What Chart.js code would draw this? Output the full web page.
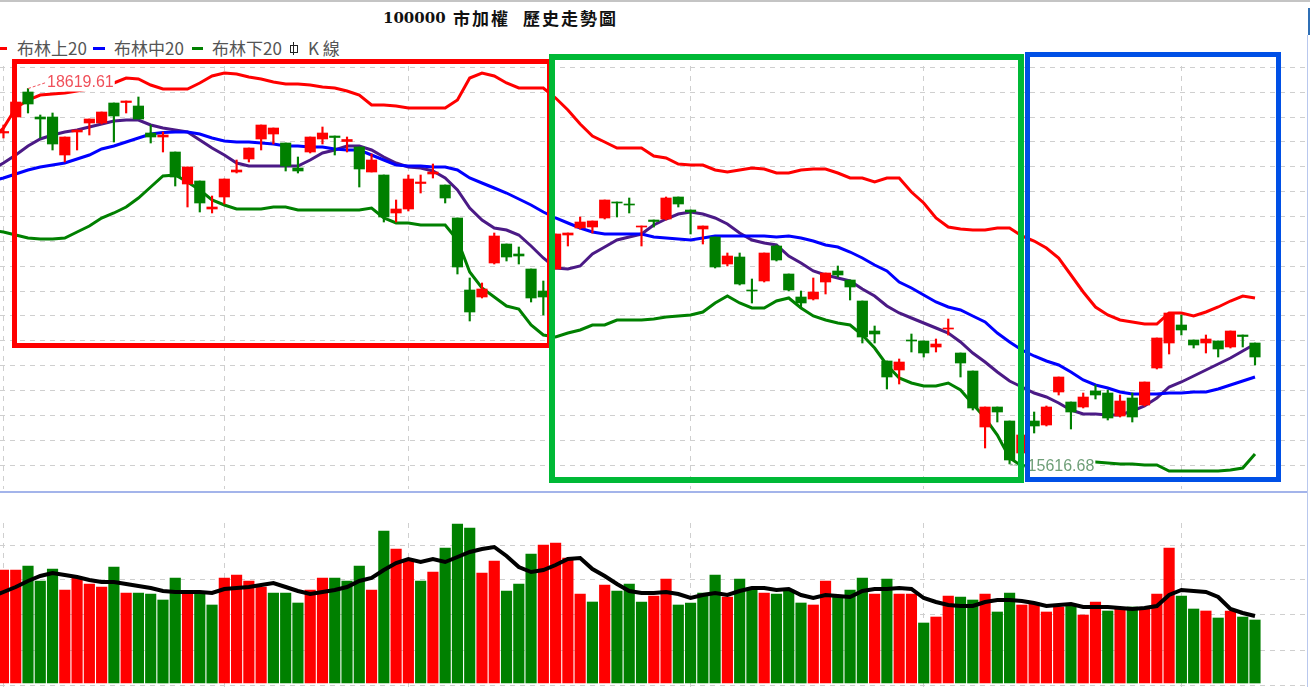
<!DOCTYPE html>
<html>
<head>
<meta charset="utf-8">
<title>100000 市加權 歷史走勢圖</title>
<script src="https://cdn.jsdelivr.net/npm/chart.js@4"></script>
<style>
    html, body { margin: 0; padding: 0; background: #fff; overflow: hidden; }
    #page { position: relative; width: 1310px; height: 687px; overflow: hidden; background: #fff; }
    #page canvas { position: absolute; left: 0; }
    #precio { top: 66px; }
    #volumen { top: 523px; }
    .topline { position: absolute; left: 0; top: 0; width: 1310px; height: 2px; background: #c4c4c4; }
    .sep { position: absolute; left: 0; top: 491px; width: 1307px; height: 2px; background: #a3b4ea; }
    .rightline { position: absolute; left: 1307px; top: 35px; width: 1px; height: 652px; background: #b9c8ee; }
    .rightcap { position: absolute; left: 1308px; top: 8px; width: 2px; height: 27px; background: #2f6fb5; }
    .titulo { position: absolute; top: 6px; line-height: 24px; font-weight: bold; color: #111; white-space: pre; }
    .num { font-family: "DejaVu Serif", serif; font-size: 15px; }
    .cjk { font-family: "Noto Sans CJK TC", sans-serif; font-size: 17px; letter-spacing: 2px; }
    .leg { position: absolute; top: 36px; font: 17px "Noto Sans CJK TC", sans-serif; line-height: 24px; color: #555; white-space: pre; }
    .dash { position: absolute; top: 47px; height: 3px; }
    .kbody { position: absolute; left: 290px; top: 45px; width: 6px; height: 6px; border: 1px solid #222; }
    .kwick { position: absolute; left: 293px; top: 42px; width: 1px; height: 13px; background: #222; }
    .box { position: absolute; box-sizing: border-box; border-style: solid; }
</style>
</head>
<body>
<div id="page">
    <div class="topline"></div>
    <div class="titulo num" style="left:383px">100000</div>
    <div class="titulo cjk" style="left:453px">市加權</div>
    <div class="titulo cjk" style="left:523px">歷史走勢圖</div>

    <div class="dash" style="left:0;width:7px;background:#ff0000"></div>
    <div class="leg" style="left:17px">布林上20</div>
    <div class="dash" style="left:93px;width:12px;background:#0000ff"></div>
    <div class="leg" style="left:114px">布林中20</div>
    <div class="dash" style="left:192px;width:11px;background:#008000"></div>
    <div class="leg" style="left:212px">布林下20</div>
    <div class="kbody"></div><div class="kwick"></div>
    <div class="leg" style="left:308px">K 線</div>

    <canvas id="precio" width="1305" height="423"></canvas>
    <div class="sep"></div>
    <canvas id="volumen" width="1305" height="164"></canvas>
    <div class="rightline"></div>
    <div class="rightcap"></div>

    <div class="box" style="left:12px;top:59px;width:540px;height:289px;border-width:5px;border-color:#ff0000"></div>
    <div class="box" style="left:549px;top:54px;width:475px;height:429px;border-width:6px;border-color:#00b936"></div>
    <div class="box" style="left:1025px;top:52px;width:256px;height:430px;border-width:5.5px;border-color:#0050e6"></div>
</div>

<script>
// daily candles (first day falls just off the left edge)
const apertura = [
    18100,
    18264, 18392, 18592, 18392, 18392, 18088, 18272, 18344, 18344, 18504, 18508, 18480, 18264, 18232, 18112, 17856, 17880, 17656, 17752, 17952,
    18056, 18216, 18256, 18184, 17984, 18112, 18216, 18240, 18196, 18152, 17952, 17928, 17624, 17656, 17860, 17936, 17848, 17584, 17008, 16952,
    17224, 17376, 17296, 17176, 17000, 17176, 17448, 17504, 17512, 17584, 17712, 17696, 17512, 17568, 17576, 17752, 17648, 17496, 17432, 17216,
    17272, 17008, 17080, 17360, 17136, 16952, 16936, 17072, 17160, 17088, 16920, 16680, 16440, 16368, 16608, 16600, 16552, 16696, 16504, 16360,
    15912, 16072, 15960, 15704, 15960, 15928, 16192, 16112, 16072, 16200, 16184, 16000, 16144, 16088, 16384, 16584, 16728, 16608, 16584, 16600,
    16552, 16648, 16584
]
const cierre = [
    18200,
    18276, 18512, 18496, 18376, 18176, 18232, 18288, 18376, 18432, 18400, 18520, 18376, 18232, 18248, 17912, 17992, 17704, 17672, 17896, 17968,
    18144, 18328, 18304, 18000, 17960, 18232, 18264, 18228, 18212, 17976, 18048, 17592, 17656, 17896, 17872, 17952, 17744, 17192, 16832, 17016,
    17440, 17272, 17280, 16944, 16952, 17456, 17464, 17552, 17560, 17728, 17704, 17688, 17520, 17556, 17744, 17696, 17632, 17520, 17192, 17280,
    17056, 17000, 17304, 17248, 17008, 16904, 16992, 17144, 17128, 17032, 16632, 16656, 16312, 16432, 16600, 16504, 16576, 16704, 16424, 16064,
    16072, 16032, 15648, 15848, 15920, 16072, 16312, 16032, 16152, 16168, 15984, 16120, 15992, 16272, 16624, 16824, 16688, 16568, 16616, 16536,
    16680, 16636, 16472
]
const maximo = [
    18250,
    18328, 18528, 18619.61, 18408, 18424, 18232, 18288, 18376, 18432, 18504, 18520, 18552, 18328, 18272, 18112, 17992, 17880, 17760, 17896, 18048,
    18144, 18328, 18304, 18184, 18072, 18232, 18312, 18240, 18232, 18152, 18096, 17928, 17728, 17928, 17928, 18016, 17848, 17584, 17104, 17064,
    17464, 17376, 17352, 17176, 17080, 17456, 17464, 17592, 17560, 17728, 17712, 17744, 17520, 17568, 17752, 17752, 17648, 17520, 17432, 17304,
    17304, 17096, 17304, 17368, 17136, 17000, 17104, 17144, 17200, 17088, 16920, 16720, 16440, 16456, 16656, 16600, 16616, 16776, 16504, 16360,
    16072, 16072, 15960, 15848, 16032, 16080, 16312, 16112, 16184, 16248, 16208, 16168, 16184, 16272, 16624, 16824, 16808, 16608, 16648, 16600,
    16680, 16648, 16584
]
const minimo = [
    18050,
    18224, 18384, 18424, 18224, 18128, 18032, 18128, 18248, 18336, 18192, 18424, 18376, 18184, 18112, 17840, 17672, 17632, 17624, 17696, 17944,
    18032, 18128, 18176, 17960, 17944, 18104, 18176, 18088, 18112, 17832, 17952, 17552, 17552, 17640, 17784, 17904, 17704, 17136, 16760, 16944,
    17216, 17240, 17216, 16912, 16808, 17176, 17360, 17496, 17464, 17576, 17592, 17624, 17360, 17512, 17568, 17672, 17456, 17376, 17184, 17200,
    17048, 16904, 17072, 17240, 17000, 16864, 16928, 16976, 17112, 16928, 16584, 16584, 16216, 16256, 16512, 16472, 16512, 16648, 16312, 16048,
    15744, 15952, 15616.68, 15704, 15864, 15920, 16168, 15896, 16064, 16136, 15968, 15992, 15952, 16080, 16376, 16496, 16648, 16544, 16504, 16472,
    16544, 16552, 16408
]

// bollinger 20 and the purple average
const bollSup = [
    18208,
    18304, 18464, 18528, 18568, 18576, 18584, 18600, 18616, 18640, 18664, 18704, 18696, 18648, 18616, 18616, 18616, 18664, 18720, 18744, 18736,
    18712, 18696, 18672, 18656, 18656, 18648, 18632, 18624, 18600, 18568, 18488, 18488, 18480, 18464, 18464, 18464, 18464, 18528, 18704, 18744,
    18720, 18664, 18624, 18624, 18624, 18544, 18448, 18336, 18240, 18192, 18144, 18144, 18144, 18080, 18064, 18016, 18008, 18008, 17968, 17952,
    17968, 17984, 17976, 17944, 17944, 17968, 17976, 17976, 17944, 17904, 17904, 17872, 17904, 17904, 17792, 17704, 17584, 17512, 17496, 17488,
    17488, 17504, 17504, 17440, 17400, 17344, 17264, 17128, 16992, 16872, 16808, 16768, 16752, 16736, 16736, 16824, 16824, 16800, 16832, 16872,
    16920, 16960, 16944
]
const bollMed = [
    17880,
    17904, 17936, 17968, 17992, 18008, 18024, 18056, 18088, 18136, 18160, 18192, 18224, 18256, 18268, 18272, 18272, 18256, 18224, 18200, 18192,
    18192, 18184, 18176, 18160, 18160, 18152, 18152, 18136, 18128, 18128, 18088, 18048, 18008, 18000, 18000, 17992, 17992, 17968, 17904, 17864,
    17824, 17784, 17736, 17688, 17632, 17584, 17544, 17504, 17472, 17456, 17456, 17456, 17456, 17432, 17424, 17416, 17408, 17424, 17440, 17440,
    17440, 17440, 17440, 17432, 17440, 17424, 17400, 17368, 17352, 17312, 17264, 17208, 17160, 17072, 17024, 16968, 16912, 16872, 16848, 16800,
    16752, 16664, 16592, 16528, 16480, 16440, 16408, 16352, 16288, 16248, 16224, 16192, 16176, 16176, 16176, 16184, 16184, 16192, 16192, 16216,
    16248, 16280, 16312
]
const bollInf = [
    17488,
    17472, 17448, 17424, 17416, 17416, 17424, 17472, 17520, 17584, 17624, 17672, 17744, 17832, 17920, 17928, 17872, 17808, 17728, 17688, 17656,
    17656, 17656, 17672, 17672, 17648, 17648, 17648, 17648, 17648, 17648, 17664, 17584, 17544, 17544, 17528, 17528, 17528, 17408, 17152, 17024,
    16952, 16880, 16856, 16728, 16648, 16632, 16664, 16688, 16728, 16728, 16768, 16768, 16768, 16776, 16792, 16800, 16808, 16832, 16904, 16960,
    16904, 16864, 16864, 16920, 16944, 16864, 16800, 16768, 16744, 16728, 16648, 16544, 16408, 16304, 16264, 16240, 16240, 16264, 16208, 16096,
    15984, 15848, 15664, 15600, 15608, 15616, 15624, 15632, 15632, 15632, 15624, 15616, 15616, 15608, 15608, 15560, 15560, 15560, 15560, 15560,
    15568, 15584, 15696
]
const mediaPrecio = [
    17968,
    18024, 18088, 18160, 18216, 18248, 18272, 18288, 18312, 18336, 18360, 18368, 18368, 18328, 18304, 18288, 18272, 18208, 18144, 18088, 18024,
    18000, 18000, 18000, 18000, 18000, 18048, 18104, 18128, 18160, 18160, 18128, 18072, 18024, 17992, 17984, 17960, 17904, 17808, 17664, 17568,
    17504, 17488, 17448, 17360, 17264, 17184, 17176, 17200, 17296, 17352, 17408, 17432, 17456, 17528, 17576, 17616, 17632, 17616, 17584, 17536,
    17464, 17408, 17384, 17368, 17280, 17224, 17160, 17128, 17104, 17080, 17016, 16960, 16880, 16824, 16784, 16744, 16704, 16664, 16592, 16504,
    16432, 16352, 16280, 16232, 16184, 16152, 16104, 16048, 16016, 16016, 16008, 16008, 16040, 16080, 16144, 16232, 16272, 16320, 16368, 16416,
    16464, 16520, 16576
]

// volume panel
const volumen = [
    1000,
    1130, 1130, 1170, 1020, 1140, 930, 1050, 990, 960, 1160, 900, 900, 890, 830, 1050, 910, 900, 780, 1050, 1080,
    1020, 960, 900, 900, 800, 930, 1050, 1050, 1020, 1170, 930, 1520, 1340, 1230, 1020, 1110, 1350, 1590, 1550, 1100,
    1220, 920, 990, 1290, 1380, 1400, 1250, 890, 810, 980, 920, 990, 810, 870, 1040, 780, 800, 900, 1080, 860,
    1040, 950, 900, 890, 930, 800, 780, 1020, 860, 930, 1050, 890, 1040, 890, 890, 600, 660, 870, 860, 830,
    890, 710, 900, 780, 800, 710, 760, 780, 680, 810, 720, 740, 760, 740, 890, 1350, 870, 740, 720, 650,
    720, 660, 630
]
const volumenSube = [
    1,
    1, 1, 0, 0, 0, 1, 1, 1, 1, 0, 1, 0, 0, 0, 0, 1, 0, 0, 1, 1,
    1, 1, 0, 0, 0, 1, 1, 0, 0, 0, 1, 0, 1, 1, 0, 1, 0, 0, 0, 1,
    1, 0, 0, 0, 1, 1, 1, 1, 0, 1, 0, 0, 0, 1, 1, 0, 0, 0, 0, 1,
    0, 0, 1, 0, 0, 0, 1, 1, 0, 0, 0, 1, 0, 1, 1, 0, 1, 1, 0, 0,
    1, 0, 0, 1, 1, 1, 1, 0, 1, 1, 0, 1, 0, 1, 1, 1, 0, 0, 1, 0,
    1, 0, 0
]
const mediaVolumen = [
    860,
    910, 960, 1020, 1070, 1100, 1080, 1060, 1030, 1010, 1010, 990, 970, 950, 920, 910, 910, 910, 900, 940, 950,
    960, 980, 1000, 960, 920, 890, 910, 930, 960, 1020, 1050, 1130, 1200, 1240, 1210, 1240, 1210, 1260, 1310, 1340,
    1360, 1270, 1160, 1110, 1130, 1180, 1240, 1250, 1140, 1070, 990, 920, 900, 900, 910, 890, 850, 880, 900, 880,
    920, 950, 950, 930, 940, 880, 850, 880, 870, 860, 920, 940, 940, 950, 940, 850, 810, 780, 770, 770,
    810, 830, 830, 820, 800, 770, 780, 790, 760, 760, 760, 750, 740, 750, 770, 880, 930, 920, 910, 860,
    740, 700, 670
]

// grid positions: month starts on x, hidden price and volume levels on y
const inicioMes = [1, 19, 34, 57, 76, 97]
const nivelesPrecio = [18789, 18590, 18391, 18193, 17994, 17795, 17596, 17397, 17199, 17000, 16801, 16602, 16403, 16205, 16006, 15807, 15608]
const nivelesVolumen = [1373, 1030, 687, 327, -20]

// days of the two printed extremes
const DIA_MAX = 3
const DIA_MIN = 83

const ROJO = '#ff0000'
const VERDE = '#008000'
const GRILLA = '#cfcfcf'

const puntos = (serie) => serie.map((v, i) => ({ x: i, y: v }))
const tramos = (a, b) => a.map((v, i) => ({ x: i, y: [v, b[i]] }))
const colorVela = apertura.map((v, i) => (cierre[i] >= v ? ROJO : VERDE))

const linea = (serie, color, ancho) => ({
    type: 'line',
    data: puntos(serie),
    borderColor: color,
    borderWidth: ancho,
    pointRadius: 0,
    tension: 0,
    order: 3
})

const ejes = (minY, maxY, nivelesY) => ({
    x: {
        type: 'linear',
        offset: false,
        min: 0.718,
        max: 107.075,
        afterBuildTicks: (s) => { s.ticks = inicioMes.map(v => ({ value: v })) },
        grid: { color: GRILLA, drawTicks: false, offset: false },
        border: { display: false, dash: [5, 5] },
        ticks: { display: false }
    },
    y: {
        min: minY,
        max: maxY,
        afterBuildTicks: (s) => { s.ticks = nivelesY.map(v => ({ value: v })) },
        grid: { color: GRILLA, drawTicks: false },
        border: { display: false, dash: [5, 5] },
        ticks: { display: false }
    }
})

// the two price labels sit on a white patch and cover the lines behind them
const etiquetas = {
    id: 'etiquetas',
    afterDatasetsDraw(chart) {
        const ctx = chart.ctx
        const { x, y } = chart.scales
        const marcar = (i, valor, dx, dy, color) => {
            const px = x.getPixelForValue(i)
            const py = y.getPixelForValue(valor)
            const texto = valor.toFixed(2)
            ctx.save()
            ctx.font = '16px "Liberation Sans", Arial, sans-serif'
            ctx.textBaseline = 'middle'
            const ancho = ctx.measureText(texto).width
            ctx.fillStyle = '#fff'
            ctx.fillRect(px + dx, py + dy - 9, ancho + 2, 18)
            ctx.strokeStyle = color
            ctx.lineWidth = 1
            ctx.setLineDash([3, 2])
            ctx.beginPath()
            ctx.moveTo(px, py)
            ctx.lineTo(px + dx, py + dy)
            ctx.stroke()
            ctx.fillStyle = color
            ctx.fillText(texto, px + dx + 1, py + dy)
            ctx.restore()
        }
        marcar(DIA_MAX, maximo[DIA_MAX], 18, -6, '#f0505a')
        marcar(DIA_MIN, minimo[DIA_MIN], 17, 3, '#6f9f78')
    }
}

new Chart(document.getElementById('precio'), {
    type: 'bar',
    data: {
        datasets: [
            linea(bollSup, ROJO, 3),
            linea(bollMed, '#0000ff', 3),
            linea(bollInf, VERDE, 3),
            linea(mediaPrecio, '#4b1a86', 3),
            {
                data: tramos(minimo, maximo),
                backgroundColor: colorVela,
                barThickness: 1.5,
                grouped: false,
                order: 2
            },
            {
                data: tramos(apertura, cierre),
                backgroundColor: colorVela,
                barThickness: 10.5,
                grouped: false,
                order: 1
            }
        ]
    },
    options: {
        responsive: false,
        animation: false,
        layout: { padding: 0 },
        plugins: { legend: { display: false }, tooltip: { enabled: false } },
        scales: ejes(15416, 18800, nivelesPrecio)
    },
    plugins: [etiquetas]
})

new Chart(document.getElementById('volumen'), {
    type: 'bar',
    data: {
        datasets: [
            Object.assign(linea(mediaVolumen, '#000000', 4), { order: 1 }),
            {
                data: puntos(volumen),
                backgroundColor: volumenSube.map(v => (v ? ROJO : VERDE)),
                barThickness: 10.5,
                order: 2
            }
        ]
    },
    options: {
        responsive: false,
        animation: false,
        layout: { padding: 0 },
        plugins: { legend: { display: false }, tooltip: { enabled: false } },
        scales: ejes(-40, 1600, nivelesVolumen)
    }
})
</script>
</body>
</html>
